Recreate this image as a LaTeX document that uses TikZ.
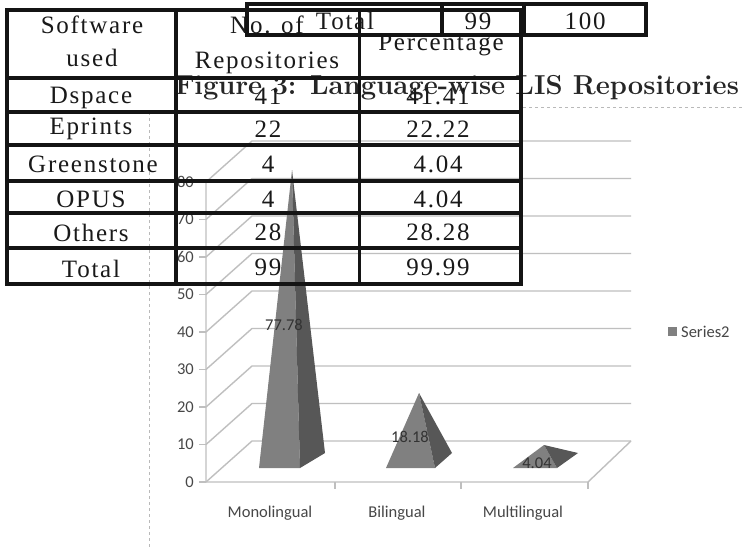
\documentclass[tikz,border=0pt]{standalone}
\usepackage{fontspec}
\setsansfont{Carlito}
\newfontfamily\tabfam[LetterSpace=7]{Liberation Serif}
\newcommand\tabfont{\tabfam\fontsize{25}{28}\selectfont}
\tikzset{
  thickrule/.style={line width=4.4pt, black!92},
  midrule/.style={line width=3.4pt, black!92},
  thinrule/.style={line width=3pt, black!92},
  gridline/.style={gray!50, line width=1.4pt},
  framedash/.style={gray!55, dashed, line width=0.8pt},
  tab/.style={font=\tabfont, text=black!90, inner sep=0pt, anchor=base},
  chartlbl/.style={font=\sffamily\fontsize{16.5}{18}\selectfont, text=black!72, inner sep=0pt},
  datalbl/.style={font=\sffamily\fontsize{16.5}{18}\selectfont, text=black!80, inner sep=0pt},
  pyrfront/.style={fill=black!50},
  pyrside/.style={fill=black!66},
}
\begin{document}
\begin{tikzpicture}[x=1pt,y=-1pt]
\useasboundingbox (0,0) rectangle (742,549);
\fill[white] (0,0) rectangle (742,549);

% ---------- chart ----------
\draw[framedash] (149,112) -- (149,549);
\draw[framedash] (523,107) -- (742,107);
\foreach \v in {0,10,...,80} {
  \draw[gridline] (206,{482-3.75*\v}) -- (252,{441-3.75*\v}) -- (631,{441-3.75*\v});
  \draw[gridline] (199,{482-3.75*\v}) -- (206,{482-3.75*\v});
  \node[chartlbl, anchor=east] (t\v) at (194,{482-3.75*\v}) {\v};
}
\draw[gridline] (206,182) -- (206,482) -- (588,482) -- (631,441);
\foreach \x in {335,461,588} \draw[gridline] (\x,482) -- (\x,489);

% pyramids
\fill[pyrfront] (259,468) -- (300,468) -- (292,170) -- cycle;
\fill[pyrside]  (300,468) -- (325,453) -- (292,170) -- cycle;
\fill[pyrfront] (386,468) -- (435,468) -- (419,393) -- cycle;
\fill[pyrside]  (435,468) -- (452,453) -- (419,393) -- cycle;
\fill[pyrfront] (513,468) -- (557,468) -- (544,445) -- cycle;
\fill[pyrside]  (557,468) -- (578,453) -- (544,445) -- cycle;

\node[datalbl] (d1) at (284,325) {77.78};
\node[datalbl] (d2) at (410,437) {18.18};
\node[datalbl] (d3) at (537,463) {4.04};

\node[chartlbl] (c1) at (270,513) {Monolingual};
\node[chartlbl] (c2) at (397,513) {Bilingual};
\node[chartlbl] (c3) at (523,513) {Multilingual};

\fill[black!50] (668,327) rectangle (677,336);
\node[chartlbl, anchor=west] (leg) at (681,332) {Series2};

% ---------- title ----------
\node[font=\fontsize{27.4}{30}\selectfont\bfseries, text=black!85, inner sep=0pt, anchor=base] (title) at (457,94) {Figure 3: Language-wise LIS Repositories};

% ---------- main table ----------
\draw[thickrule] (7,10) -- (521,10);
\draw[thickrule] (7,8) -- (7,286);
\draw[thickrule] (521,8) -- (521,286);
\draw[thickrule] (5,284) -- (523,284);
\draw[thickrule] (176,10) -- (176,284);
\draw[thinrule]  (359,10) -- (359,284);
\draw[midrule] (7,78) -- (521,78);
\draw[midrule] (7,112) -- (521,112);
\draw[midrule] (7,145) -- (521,145);
\draw[thickrule] (7,181) -- (521,181);
\draw[midrule] (7,213) -- (521,213);
\draw[thickrule] (7,248) -- (521,248);

\node[tab] (h1a) at (92,33) {Software};
\node[tab] (h1b) at (92,66) {used};
\node[tab] (h2a) at (267,33) {No. of};
\node[tab] (h2b) at (267,68) {Repositories};
\node[tab] (h3) at (441,50) {Percentage};

\node[tab] (r1a) at (91,103) {Dspace};
\node[tab] (r2a) at (91,134) {Eprints};
\node[tab] (r3a) at (93,172) {Greenstone};
\node[tab] (r4a) at (91,207) {OPUS};
\node[tab] (r5a) at (91,241) {Others};
\node[tab] (r6a) at (91,277) {Total};

\node[tab] (r1b) at (268,104) {41};
\node[tab] (r2b) at (268,137) {22};
\node[tab] (r3b) at (268,172) {4};
\node[tab] (r4b) at (268,207) {4};
\node[tab] (r5b) at (268,240) {28};
\node[tab] (r6b) at (268,275) {99};

\node[tab] (r1c) at (438,104) {41.41};
\node[tab] (r2c) at (438,137) {22.22};
\node[tab] (r3c) at (438,172) {4.04};
\node[tab] (r4c) at (438,207) {4.04};
\node[tab] (r5c) at (438,240) {28.28};
\node[tab] (r6c) at (438,275) {99.99};

% ---------- small overlapping table ----------
\draw[midrule] (247,4) rectangle (646,35);
\draw[midrule] (442,4) -- (442,35);
\draw[midrule] (524,4) -- (524,35);
\node[tab] (s1) at (345,29) {Total};
\node[tab] (s2) at (478,29) {99};
\node[tab] (s3) at (585,29) {100};
\end{tikzpicture}
\end{document}
